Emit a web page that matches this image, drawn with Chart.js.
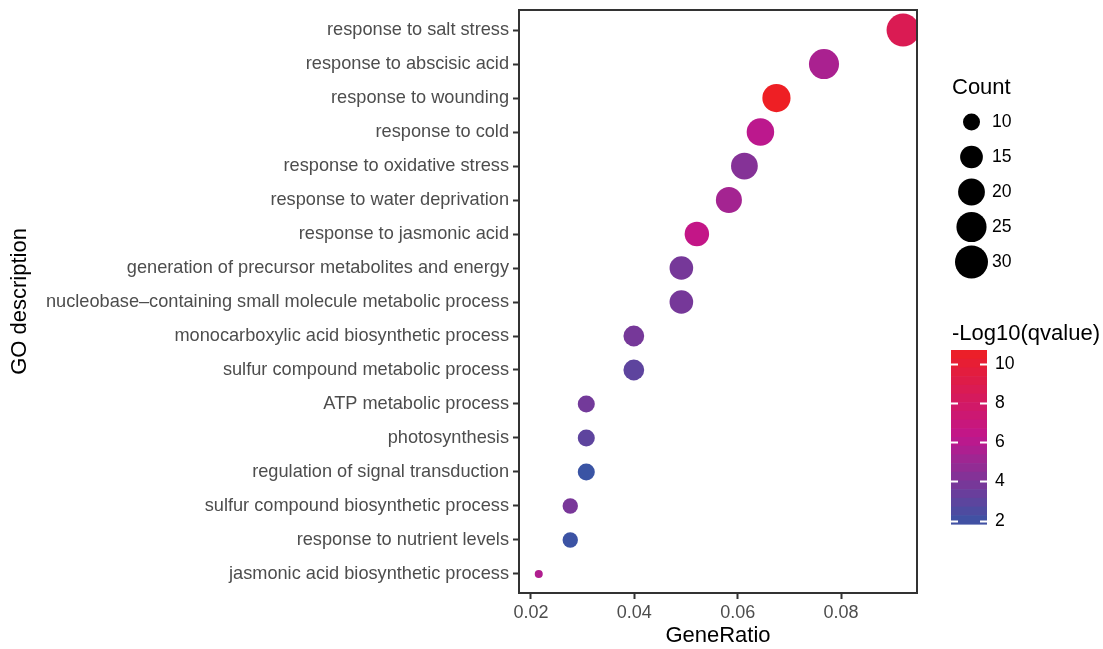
<!DOCTYPE html>
<html>
<head>
<meta charset="utf-8">
<script src="https://cdn.jsdelivr.net/npm/chart.js@4.4.1/dist/chart.umd.min.js"></script>
<style>
  html, body { margin: 0; padding: 0; background: #fff; }
  #chart { display: block; }
</style>
</head>
<body>
<canvas id="chart" width="1103" height="649"></canvas>
<script>
// GO terms, top to bottom
const categories = [
  "response to salt stress",
  "response to abscisic acid",
  "response to wounding",
  "response to cold",
  "response to oxidative stress",
  "response to water deprivation",
  "response to jasmonic acid",
  "generation of precursor metabolites and energy",
  "nucleobase\u2013containing small molecule metabolic process",
  "monocarboxylic acid biosynthetic process",
  "sulfur compound metabolic process",
  "ATP metabolic process",
  "photosynthesis",
  "regulation of signal transduction",
  "sulfur compound biosynthetic process",
  "response to nutrient levels",
  "jasmonic acid biosynthetic process",
];
const geneRatio = [0.0920, 0.0767, 0.0675, 0.0644, 0.0613, 0.0583, 0.0521, 0.0491, 0.0491,
  0.0399, 0.0399, 0.0307, 0.0307, 0.0307, 0.0276, 0.0276, 0.0215];
const counts = [30, 25, 22, 21, 20, 19, 17, 16, 16, 13, 13, 10, 10, 10, 9, 9, 7];
const negLog10Q = [8.7, 5.5, 10.71, 6.1, 4.3, 5.3, 6.5, 3.8, 3.8, 3.8, 3.0, 3.7, 3.0, 1.83, 3.9, 1.9, 5.7];

const xTicks = [0.02, 0.04, 0.06, 0.08];
const sizeLegend = [10, 15, 20, 25, 30];
const colorTicks = [2, 4, 6, 8, 10];

const fontFamily = '"Liberation Sans", Arial, Helvetica, sans-serif';

// size scale (area-like, as ggplot does)
const cMin = Math.min(...counts);
const cMax = Math.max(...counts);
function sizeOf(c) {
  const t = (c - cMin) / (cMax - cMin);
  return 4 + Math.sqrt(Math.max(t, 0)) * 12.5;
}

// colour scale: blue -> magenta -> red
const qMin = Math.min(...negLog10Q);
const qMax = Math.max(...negLog10Q);
const lowColor = [58, 84, 164];
const midColor = [193, 22, 140];
const highColor = [238, 31, 36];
function mix(a, b, t) {
  return "rgb(" + a.map((v, i) => Math.round(v + (b[i] - v) * t)).join(",") + ")";
}
function qColor(v) {
  const t = Math.min(Math.max((v - qMin) / (qMax - qMin), 0), 1);
  return t < 0.5 ? mix(lowColor, midColor, t * 2) : mix(midColor, highColor, (t - 0.5) * 2);
}

const panelBorder = {
  id: "panelBorder",
  afterDatasetsDraw(chart) {
    const { ctx, chartArea } = chart;
    ctx.save();
    ctx.strokeStyle = "#333";
    ctx.lineWidth = 2;
    ctx.strokeRect(chartArea.left, chartArea.top, chartArea.right - chartArea.left, chartArea.bottom - chartArea.top);
    ctx.restore();
  },
};

const sideLegends = {
  id: "sideLegends",
  afterDraw(chart) {
    const ctx = chart.ctx;
    ctx.save();
    ctx.fillStyle = "#000";
    ctx.textAlign = "left";
    ctx.textBaseline = "middle";

    // Count legend
    ctx.font = "22px " + fontFamily;
    ctx.fillText("Count", 952, 88);
    ctx.font = "17.6px " + fontFamily;
    sizeLegend.forEach((c, i) => {
      const y = 122 + i * 35;
      ctx.beginPath();
      ctx.arc(971.5, y, sizeOf(c), 0, Math.PI * 2);
      ctx.fill();
      ctx.fillText(String(c), 992, y);
    });

    // colour bar
    ctx.font = "22px " + fontFamily;
    ctx.fillText("-Log10(qvalue)", 952, 334);
    const barTop = 350, barBottom = 524, barLeft = 951, barW = 36;
    const yOf = (v) => barBottom - (v - qMin) / (qMax - qMin) * (barBottom - barTop);
    const nbin = 20;
    const step = (barBottom - barTop) / nbin;
    for (let k = 0; k < nbin; k++) {
      const v = qMax - (k + 0.5) / nbin * (qMax - qMin);
      ctx.fillStyle = qColor(v);
      ctx.fillRect(barLeft, barTop + k * step, barW, step + 0.6);
    }
    ctx.strokeStyle = "#fff";
    ctx.lineWidth = 2;
    ctx.font = "17.6px " + fontFamily;
    colorTicks.forEach((v) => {
      const y = Math.round(yOf(v)) + 0.5;
      ctx.beginPath();
      ctx.moveTo(barLeft, y); ctx.lineTo(barLeft + 7, y);
      ctx.moveTo(barLeft + barW - 7, y); ctx.lineTo(barLeft + barW, y);
      ctx.stroke();
      ctx.fillStyle = "#000";
      ctx.fillText(String(v), 995, y);
    });
    ctx.restore();
  },
};

const points = categories.map((c, i) => ({ x: geneRatio[i], y: i, r: sizeOf(counts[i]) }));

new Chart(document.getElementById("chart"), {
  type: "bubble",
  data: {
    datasets: [{
      data: points,
      backgroundColor: negLog10Q.map(qColor),
      borderWidth: 0,
      hoverBorderWidth: 0,
    }],
  },
  options: {
    responsive: false,
    animation: false,
    devicePixelRatio: 1,
    events: [],
    layout: { autoPadding: false, padding: { top: 10, right: 186, left: 0, bottom: 0 } },
    plugins: { legend: { display: false }, tooltip: { enabled: false } },
    scales: {
      x: {
        type: "linear",
        min: 0.01768,
        max: 0.0947,
        afterBuildTicks: (s) => { s.ticks = xTicks.map((v) => ({ value: v })); },
        afterFit: (s) => { s.height = 56; s.paddingLeft = 0; s.paddingRight = 0; },
        ticks: {
          callback: (v) => v.toFixed(2),
          color: "#4D4D4D",
          font: { family: fontFamily, size: 18 },
          padding: 3,
          maxRotation: 0,
        },
        grid: { drawOnChartArea: false, tickLength: 6, tickWidth: 2, tickColor: "#333" },
        border: { display: false },
        title: {
          display: true,
          text: "GeneRatio",
          color: "#000",
          font: { family: fontFamily, size: 22 },
          padding: { top: 0, bottom: 0 },
        },
      },
      y: {
        type: "linear",
        reverse: true,
        min: -0.59,
        max: 16.56,
        afterBuildTicks: (s) => { s.ticks = categories.map((c, i) => ({ value: i })); },
        afterFit: (s) => { s.width = 519; s.paddingTop = 0; s.paddingBottom = 0; },
        ticks: {
          callback: (v) => categories[v],
          autoSkip: false,
          color: "#4D4D4D",
          font: { family: fontFamily, size: 18.2 },
          padding: 4,
        },
        grid: { drawOnChartArea: false, tickLength: 6, tickWidth: 2, tickColor: "#333" },
        border: { display: false },
        title: {
          display: true,
          text: "GO description",
          color: "#000",
          font: { family: fontFamily, size: 22 },
          padding: { top: 7, bottom: 0 },
        },
      },
    },
  },
  plugins: [panelBorder, sideLegends],
});
</script>
</body>
</html>
